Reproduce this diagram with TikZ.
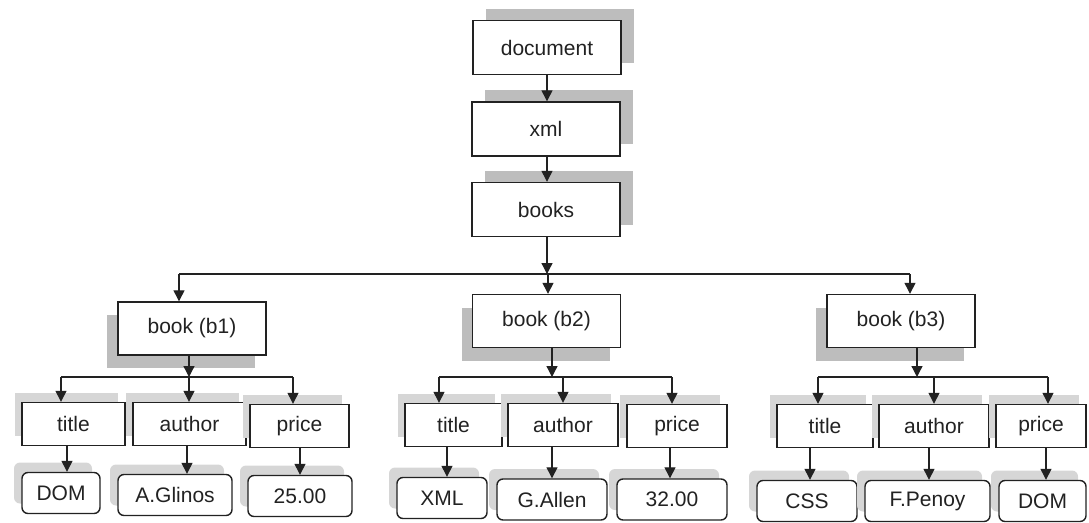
\documentclass[tikz,border=0pt]{standalone}
\usepackage{fontspec}
\setmainfont{Liberation Sans}
\usetikzlibrary{arrows.meta,shadows}
\definecolor{shadowdark}{HTML}{BDBDBD}
\definecolor{shadowlight}{HTML}{D6D6D6}
\definecolor{inkgray}{HTML}{222222}
\tikzset{
  base/.style={draw=inkgray, line width=1.4pt, fill=white, text=inkgray,
    inner sep=0pt, font=\fontsize{21}{25}\selectfont},
  topbox/.style={base, minimum width=148pt, minimum height=54pt,
    general shadow={fill=shadowdark, shadow xshift=13pt, shadow yshift=12pt}},
  bookbox/.style={base, minimum width=148pt, minimum height=53pt,
    general shadow={fill=shadowdark, shadow xshift=-11pt, shadow yshift=-13pt}},
  fieldbox/.style={base, minimum height=43pt,
    general shadow={fill=shadowlight, shadow xshift=-7pt, shadow yshift=10pt}},
  valbox/.style={base, rounded corners=6pt, minimum height=41pt,
    general shadow={fill=shadowlight, shadow xshift=-8pt, shadow yshift=10pt}},
  arr/.style={draw=inkgray, line width=1.3pt, -{Triangle[length=11pt,width=11pt]}},
  link/.style={draw=inkgray, line width=1.3pt},
}
\begin{document}
\begin{tikzpicture}[x=1pt,y=-1pt]
\useasboundingbox (0,0) rectangle (1089,522);

% root chain
\node[topbox] (document) at (547,47.5) {document};
\node[topbox] (xml) at (546,129) {xml};
\node[topbox] (books) at (546,209.5) {books};

% book elements
\node[bookbox] (b1) at (192,328.5) {book (b1)};
\node[bookbox] (b2) at (546.5,321) {book (b2)};
\node[bookbox] (b3) at (901,321) {book (b3)};

% child elements of each book
\node[fieldbox, minimum width=103pt] (title1) at (73.5,424) {title};
\node[fieldbox, minimum width=113pt] (author1) at (189.5,424) {author};
\node[fieldbox, minimum width=99pt] (price1) at (299.5,426) {price};

\node[fieldbox, minimum width=97pt] (title2) at (453.5,425) {title};
\node[fieldbox, minimum width=110pt] (author2) at (563,425) {author};
\node[fieldbox, minimum width=100pt] (price2) at (677,426) {price};

\node[fieldbox, minimum width=96pt] (title3) at (825,426) {title};
\node[fieldbox, minimum width=110pt] (author3) at (934,426) {author};
\node[fieldbox, minimum width=90pt] (price3) at (1041,426) {price};

% text values
\node[valbox, minimum width=78pt] (v11) at (61,493) {DOM};
\node[valbox, minimum width=114pt] (v12) at (175,495) {A.Glinos};
\node[valbox, minimum width=104pt] (v13) at (300,496) {25.00};

\node[valbox, minimum width=90pt] (v21) at (442,498) {XML};
\node[valbox, minimum width=110pt] (v22) at (552,499.5) {G.Allen};
\node[valbox, minimum width=110pt] (v23) at (672,499.5) {32.00};

\node[valbox, minimum width=100pt] (v31) at (807,501) {CSS};
\node[valbox, minimum width=125pt] (v32) at (927.5,501) {F.Penoy};
\node[valbox, minimum width=87pt] (v33) at (1042.5,501) {DOM};

% junction points
\coordinate (j0) at (547,274);
\coordinate (j1) at (189,377);
\coordinate (j2) at (552,377);
\coordinate (j3) at (917,377);

% root chain arrows
\draw[arr] (547,0 |- document.south) -- (547,0 |- xml.north);
\draw[arr] (547,0 |- xml.south) -- (547,0 |- books.north);
\draw[arr] (j0 |- books.south) -- (j0);

% books -> book (b1..b3)
\draw[link] (179,274) -- (910,274);
\draw[arr] (179,274) -- (179,0 |- b1.north);
\draw[arr] (548,274) -- (548,0 |- b2.north);
\draw[arr] (910,274) -- (910,0 |- b3.north);

% book (b1) -> children
\draw[arr] (j1 |- b1.south) -- (j1);
\draw[link] (61,377) -- (293,377);
\draw[arr] (61,377) -- (61,0 |- title1.north);
\draw[arr] (189,377) -- (189,0 |- author1.north);
\draw[arr] (293,377) -- (293,0 |- price1.north);

% book (b2) -> children
\draw[arr] (j2 |- b2.south) -- (j2);
\draw[link] (439,377) -- (672,377);
\draw[arr] (439,377) -- (439,0 |- title2.north);
\draw[arr] (563,377) -- (563,0 |- author2.north);
\draw[arr] (672,377) -- (672,0 |- price2.north);

% book (b3) -> children
\draw[arr] (j3 |- b3.south) -- (j3);
\draw[link] (818,377) -- (1048,377);
\draw[arr] (818,377) -- (818,0 |- title3.north);
\draw[arr] (934,377) -- (934,0 |- author3.north);
\draw[arr] (1048,377) -- (1048,0 |- price3.north);

% children -> text values
\draw[arr] (67,0 |- title1.south) -- (67,0 |- v11.north);
\draw[arr] (187,0 |- author1.south) -- (187,0 |- v12.north);
\draw[arr] (300,0 |- price1.south) -- (300,0 |- v13.north);

\draw[arr] (447,0 |- title2.south) -- (447,0 |- v21.north);
\draw[arr] (552,0 |- author2.south) -- (552,0 |- v22.north);
\draw[arr] (670,0 |- price2.south) -- (670,0 |- v23.north);

\draw[arr] (810,0 |- title3.south) -- (810,0 |- v31.north);
\draw[arr] (929,0 |- author3.south) -- (929,0 |- v32.north);
\draw[arr] (1046,0 |- price3.south) -- (1046,0 |- v33.north);
\end{tikzpicture}
\end{document}
